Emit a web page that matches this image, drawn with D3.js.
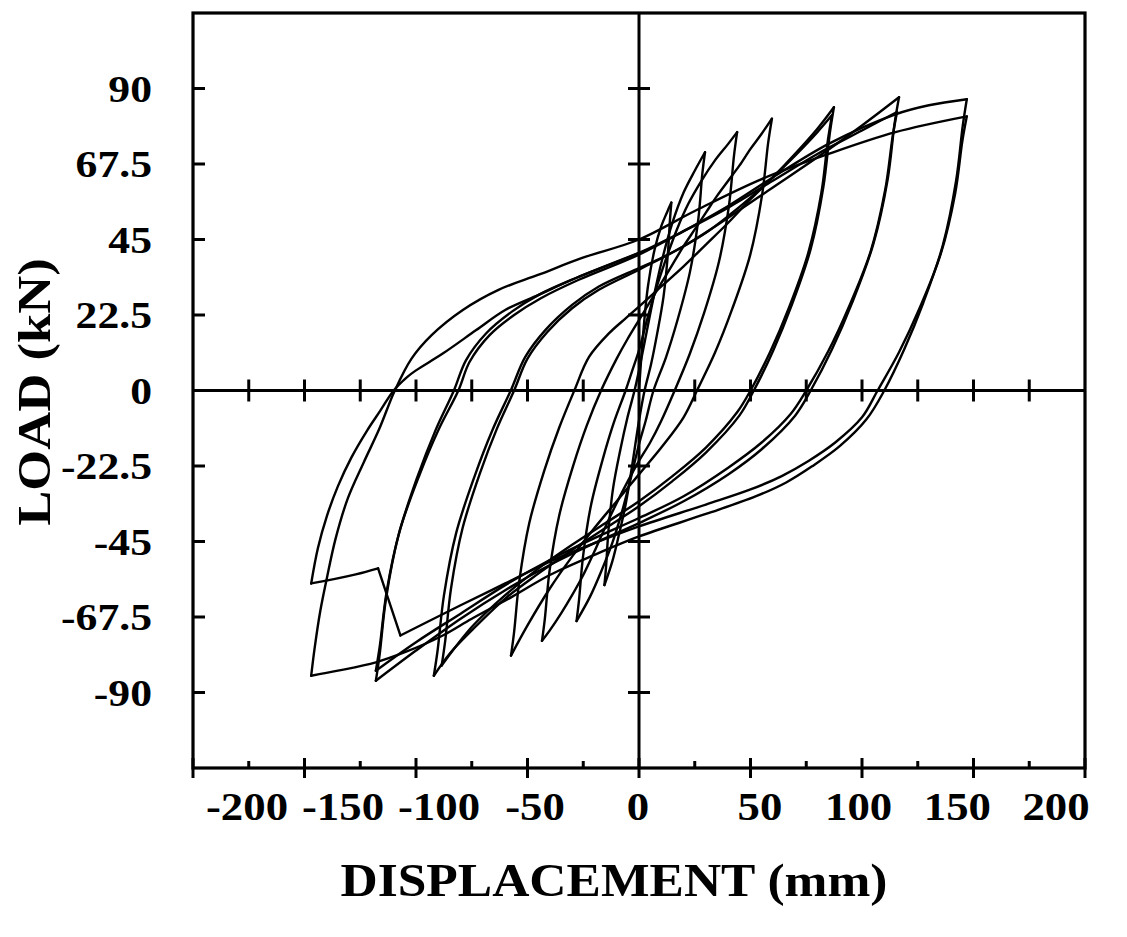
<!DOCTYPE html>
<html>
<head>
<meta charset="utf-8">
<script src="https://cdn.jsdelivr.net/npm/d3@7"></script>
<style>
  html, body { margin: 0; padding: 0; background: #fff; }
  svg { display: block; }
</style>
</head>
<body>
<svg id="chart" width="1127" height="937"></svg>
<script>
// Axis values
const xLabelValues = [-200, -150, -100, -50, 0, 50, 100, 150, 200];
const xTickValues = [-175, -150, -125, -100, -75, -50, -25, 25, 50, 75, 100, 125, 150, 175];
const yTickValues = [90, 67.5, 45, 22.5, 0, -22.5, -45, -67.5, -90];
const yTickLabels = ["90", "67.5", "45", "22.5", "0", "-22.5", "-45", "-67.5", "-90"];

// Load-displacement history, one array per amplitude step: [displacement mm, load kN]
const cycle15 = [[0,0],[2,18],[4,31],[7,42],[10,49],[12.5,53],[14.5,56],
  [13.9,51],[12.9,40.3],[11,28],[8.1,16.8],[5.4,7.8],[2.5,0],[0,-9],[-3,-22],[-6,-34],[-9,-43],[-12,-51],[-15.5,-58]];

const cycle30 = [[-15.5,-58],[-14.8,-52.8],[-13.7,-41.8],[-11.6,-29],[-8.3,-17.4],[-5.2,-8.1],[-2,0],[0,6],[3,16],[6,26],[10,38],[15,50],[20,59],[25,65.5],[29.6,71],
  [28.4,64.6],[26.6,51.1],[22.9,35.5],[17.4,21.3],[12.1,9.9],[6.5,0],[3,-9],[0,-16],[-4,-27],[-8,-37],[-12,-45.5],[-17,-54],[-22,-61.5],[-28,-68.7]];

const cycle45 = [[-28,-68.7],[-26.9,-62.5],[-25.1,-49.5],[-21.6,-34.4],[-16.3,-20.6],[-11.3,-9.6],[-6,0],[-3,6],[0,12],[4,22],[8,31],[12,39],[17,48],[22,55.5],[28,62.5],[34,68.5],[40,73.5],[44,77],
  [42.6,70],[40.4,55.4],[35.9,38.5],[29.2,23.1],[22.7,10.8],[16,0],[10,-9],[5,-15.5],[0,-21],[-5,-27],[-10,-33.5],[-15,-40.5],[-20,-48],[-25,-55],[-30,-61],[-35,-66.5],[-40,-71.5],[-43.5,-74.6]];

const cycle60 = [[-43.5,-74.6],[-42.2,-67.9],[-40.1,-53.7],[-35.8,-37.3],[-29.5,-22.4],[-23.4,-10.4],[-17,0],[-10,9.5],[-5,15.5],[0,21],[5,26.5],[10,32],[15,37.5],[20,43],[25,48],[30,53],[35,58],[40,62.5],[45,67],[50,72],[55,76.5],[59.6,81],
  [57.9,73.7],[55.2,58.3],[49.9,40.5],[41.8,24.3],[34.1,11.3],[26,0],[20,-8],[10,-17],[0,-25],[-10,-33],[-20,-41],[-30,-49.5],[-40,-59],[-50,-70],[-57.4,-79]];

const cycle90a = [[-57.4,-79],[-56,-71.9],[-53.7,-56.9],[-49.2,-39.5],[-42.4,-23.7],[-35.8,-11.1],[-29,0],[-22.4,10],[-13.5,17],[-6,21.5],[0,25],[10,31],[20,37],[30,43.5],[40,50],[50,57],[60,63.5],[70,70.5],[80,78],[87.4,84.4],
  [85.6,76.8],[82.7,60.8],[77,42.2],[68.4,25.3],[60.1,11.8],[51.5,0],[45,-7.5],[30,-18.5],[15,-27],[0,-34.5],[-15,-41],[-30,-47.5],[-45,-54.5],[-60,-62],[-75,-71.5],[-85,-78.5],[-92,-85]];

const cycle90b = [[-92,-85],[-90.3,-77.4],[-87.5,-61.2],[-82,-42.5],[-73.7,-25.5],[-65.8,-11.9],[-57.5,0],[-51,10],[-42,18],[-30,25.5],[-18,31],[0,36.5],[10,39.5],[20,43],[30,47],[40,52],[50,57.5],[60,63.5],[70,70],[80,77],[86.5,82],
  [84.7,74.6],[81.8,59],[75.9,41],[67.2,24.6],[58.8,11.5],[50,0],[44,-6.5],[30,-17],[15,-25.5],[0,-33],[-15,-39.5],[-30,-46],[-45,-53],[-60,-61],[-75,-70.5],[-88.5,-82]];

const cycle120a = [[-88.5,-82],[-86.9,-74.6],[-84.3,-59],[-79.1,-41],[-71.3,-24.6],[-63.8,-11.5],[-56,0],[-50,9.5],[-41,17.5],[-30,24.5],[-18,30],[0,36],[20,43],[40,51.5],[60,60.5],[80,69.5],[100,79],[116.6,87.4],
  [114.6,79.5],[111.5,62.9],[105.1,43.7],[95.6,26.2],[86.5,12.2],[77,0],[70,-7.5],[55,-17.5],[40,-25],[20,-33],[0,-39.5],[-20,-45.5],[-40,-52],[-60,-59.5],[-80,-68],[-100,-77.5],[-118,-86.5]];

const cycle120b = [[-118,-86.5],[-116.3,-78.7],[-113.5,-62.3],[-107.9,-43.3],[-99.5,-26],[-91.4,-12.1],[-83,0],[-77.6,9],[-68.6,17],[-57,23.5],[-45,28.5],[-28,33.6],[0,41],[20,47.5],[40,54.5],[60,62.5],[80,70.5],[100,77.5],[115.7,83],
  [113.7,75.5],[110.4,59.8],[103.9,41.5],[94.1,24.9],[84.8,11.6],[75,0],[68,-7],[55,-15.5],[40,-23],[20,-31.5],[0,-38],[-20,-44],[-40,-50.5],[-60,-58],[-80,-66.5],[-100,-75],[-118,-83.5]];

const cycle150a = [[-118,-83.5],[-116.2,-76],[-113.2,-60.1],[-107.3,-41.8],[-98.4,-25.1],[-89.9,-11.7],[-81,0],[-76,8.5],[-67,16.5],[-56,22.5],[-44,27.5],[-27,33],[0,40.5],[20,47.5],[40,55],[60,63.5],[85,73.5],[115,82.3],[130,85],[147,86.8],
  [145.2,79],[142.2,62.5],[136.3,43.4],[127.4,26],[118.9,12.2],[110,0],[102,-8.6],[90,-16.6],[77.6,-22.6],[66,-27.4],[52.5,-31.5],[30,-36.8],[0,-43.5],[-20,-49],[-40,-55],[-57,-61.5],[-75,-68],[-88,-73],[-105,-78],[-118,-81],[-135,-83.5],[-147,-85]];

const cycle150b = [[-147,-85],[-145.5,-77],[-143,-66],[-140,-56],[-136,-44],[-130.5,-32],[-123.5,-21.5],[-116.5,-11.5],[-109.5,0],[-102,9.5],[-93,16.5],[-79,24],[-63,30],[-45,34.5],[-25.5,39.5],[0,45],[25,53.5],[55,63],[85,70.5],[115,77],[147,81.7],
  [145,74.3],[141.8,58.8],[135.4,40.9],[125.8,24.5],[116.6,11.4],[107,0],[100,-8],[88,-15.5],[76,-21],[64,-25.5],[50,-29.5],[30,-34],[0,-40.5],[-20,-45.5],[-40,-51],[-60,-57.5],[-80,-64],[-95,-69],[-107,-73],[-117,-53],[-127,-54.8],[-147,-57.5]];

const finalReload = [[-147,-57.5],[-144,-47],[-140,-37.5],[-135,-28.5],[-129,-20],[-122,-12],[-116,-6],[-110,0],[-104,4],[-100,6],[-88,11],[-73,18],[-60,24],[-45,28.5],[-28,33.6],[0,41]];

const history = [cycle15, cycle30, cycle45, cycle60, cycle90a, cycle90b, cycle120a, cycle120b, cycle150a, cycle150b, finalReload];

// Layout
const svg = d3.select("#chart");
const frame = { left: 193, right: 1085, top: 13, bottom: 768 };
const x = d3.scaleLinear().domain([-200, 200]).range([frame.left, frame.right]);
const y = d3.scaleLinear().domain([-112.5, 112.5]).range([frame.bottom, frame.top]);
// Displacement labels sit on a slightly tighter spacing than the ticks
const labelX = d3.scaleLinear().domain([-200, -50, 0, 50, 200]).range([247, 535, 638, 760, 1056]);
const serif = "'Liberation Serif', 'Times New Roman', serif";
const stretch = 1.12;

// Split a path into branches wherever displacement or load reverses, so peaks stay sharp
function branches(points) {
  const out = [];
  let cur = [points[0]];
  for (let i = 1; i < points.length; i++) {
    cur.push(points[i]);
    if (i < points.length - 1) {
      const dx1 = Math.sign(points[i][0] - points[i - 1][0]);
      const dx2 = Math.sign(points[i + 1][0] - points[i][0]);
      const dy1 = Math.sign(points[i][1] - points[i - 1][1]);
      const dy2 = Math.sign(points[i + 1][1] - points[i][1]);
      if (dx1 !== dx2 || dy1 !== dy2) {
        out.push(cur);
        cur = [points[i]];
      }
    }
  }
  out.push(cur);
  return out;
}

const line = d3.line()
  .x(d => x(d[0]))
  .y(d => y(d[1]))
  .curve(d3.curveCatmullRom.alpha(0.5));

// Frame
svg.append("rect")
  .attr("x", frame.left).attr("y", frame.top)
  .attr("width", frame.right - frame.left).attr("height", frame.bottom - frame.top)
  .attr("fill", "none").attr("stroke", "#000").attr("stroke-width", 3.2);

// Zero axes through the origin
const g = svg.append("g").attr("stroke", "#000").attr("stroke-width", 3);
g.append("line").attr("x1", frame.left).attr("x2", frame.right).attr("y1", y(0)).attr("y2", y(0));
g.append("line").attr("x1", x(0)).attr("x2", x(0)).attr("y1", frame.top).attr("y2", frame.bottom);

// Ticks crossing the zero axes
g.selectAll(".xz").data(xTickValues).join("line")
  .attr("x1", d => x(d)).attr("x2", d => x(d))
  .attr("y1", y(0) - 11).attr("y2", y(0) + 11);
g.selectAll(".yz").data(yTickValues.filter(v => v !== 0)).join("line")
  .attr("x1", x(0) - 11).attr("x2", x(0) + 11)
  .attr("y1", d => y(d)).attr("y2", d => y(d));

// Ticks on the left and bottom of the frame
g.selectAll(".yl").data(yTickValues.filter(v => v !== 0)).join("line")
  .attr("x1", frame.left).attr("x2", frame.left + 12)
  .attr("y1", d => y(d)).attr("y2", d => y(d));
g.selectAll(".xb").data([-200, ...xTickValues.slice(0, 7), 0, ...xTickValues.slice(7), 200]).join("line")
  .attr("x1", d => x(d)).attr("x2", d => x(d))
  .attr("y1", d => frame.bottom - (d % 50 === 0 ? 10 : 7))
  .attr("y2", d => frame.bottom + (d % 50 === 0 ? 10 : 0));

// Hysteresis curves
const curves = svg.append("g")
  .attr("fill", "none").attr("stroke", "#000")
  .attr("stroke-width", 2.4).attr("stroke-linejoin", "round").attr("stroke-linecap", "round");
history.forEach(cycle => {
  branches(cycle).forEach(b => curves.append("path").attr("d", line(b)));
});

// Tick labels
svg.append("g").selectAll("text").data(yTickValues).join("text")
  .attr("transform", d => `translate(152,${y(d)}) scale(${stretch},1)`)
  .attr("text-anchor", "end").attr("dominant-baseline", "central")
  .attr("font-family", serif).attr("font-weight", "bold").attr("font-size", 39)
  .text((d, i) => yTickLabels[i]);

svg.append("g").selectAll("text").data(xLabelValues).join("text")
  .attr("transform", d => `translate(${labelX(d)},806) scale(${stretch},1)`)
  .attr("text-anchor", "middle").attr("dominant-baseline", "central")
  .attr("font-family", serif).attr("font-weight", "bold").attr("font-size", 40)
  .text(d => String(d));

// Axis titles
svg.append("text")
  .attr("transform", `translate(614,880) scale(${stretch},1)`)
  .attr("text-anchor", "middle").attr("dominant-baseline", "central")
  .attr("font-family", serif).attr("font-weight", "bold").attr("font-size", 46)
  .text("DISPLACEMENT (mm)");

svg.append("text")
  .attr("transform", `translate(34,392) rotate(-90) scale(${stretch},1)`)
  .attr("text-anchor", "middle").attr("dominant-baseline", "central")
  .attr("font-family", serif).attr("font-weight", "bold").attr("font-size", 47)
  .text("LOAD (kN)");
</script>
</body>
</html>
